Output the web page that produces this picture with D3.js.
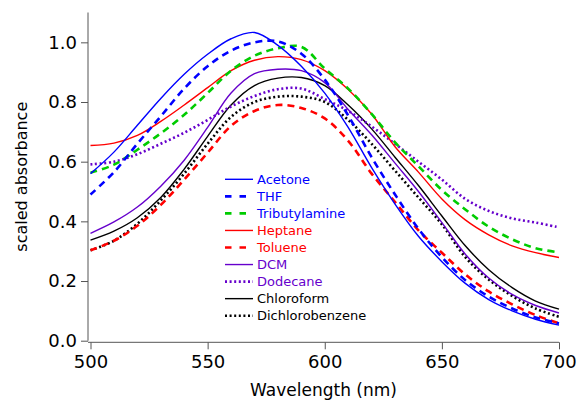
<!DOCTYPE html>
<html>
<head>
<meta charset="utf-8">
<script src="https://cdn.jsdelivr.net/npm/d3@7"></script>
<style>
  body { margin: 0; background: #fff; }
  text { font-family: "DejaVu Sans", sans-serif; }
</style>
</head>
<body>
<script>
// chart size
const w = 579;
const h = 400;

// data, wavelength in nm
const wavelengths = [500,510,520,530,540,550,560,570,580,590,600,610,620,630,640,650,660,670,680,690,700];

const acetone   = [0.560,0.632,0.722,0.812,0.893,0.960,1.012,1.033,0.990,0.920,0.830,0.715,0.580,0.458,0.350,0.265,0.192,0.138,0.100,0.072,0.052];
const thf       = [0.490,0.565,0.660,0.752,0.845,0.920,0.972,1.000,1.003,0.962,0.875,0.755,0.615,0.490,0.375,0.280,0.203,0.148,0.108,0.078,0.058];
const tributyl  = [0.563,0.590,0.640,0.695,0.757,0.830,0.905,0.955,0.980,0.985,0.912,0.845,0.760,0.665,0.585,0.505,0.440,0.382,0.340,0.310,0.296];
const heptane   = [0.654,0.662,0.688,0.735,0.790,0.848,0.905,0.940,0.952,0.942,0.905,0.842,0.760,0.650,0.565,0.475,0.405,0.355,0.318,0.295,0.279];
const toluene   = [0.303,0.335,0.385,0.455,0.540,0.630,0.720,0.770,0.790,0.780,0.745,0.670,0.560,0.465,0.370,0.295,0.222,0.165,0.122,0.086,0.058];
const dcm       = [0.360,0.398,0.448,0.518,0.605,0.715,0.830,0.895,0.910,0.905,0.865,0.775,0.690,0.595,0.500,0.396,0.290,0.210,0.155,0.118,0.093];
const dodecane  = [0.591,0.600,0.625,0.660,0.697,0.740,0.785,0.820,0.843,0.845,0.810,0.770,0.718,0.660,0.600,0.540,0.475,0.435,0.410,0.396,0.380];
const chloro    = [0.337,0.367,0.412,0.480,0.575,0.685,0.790,0.855,0.880,0.882,0.855,0.790,0.710,0.615,0.520,0.418,0.318,0.238,0.178,0.133,0.106];
const dichloro  = [0.303,0.335,0.392,0.470,0.560,0.660,0.750,0.800,0.818,0.818,0.800,0.740,0.660,0.570,0.480,0.390,0.280,0.205,0.150,0.108,0.080];

const names  = ["Acetone","THF","Tributylamine","Heptane","Toluene","DCM","Dodecane","Chloroform","Dichlorobenzene"];
const values = [acetone, thf, tributyl, heptane, toluene, dcm, dodecane, chloro, dichloro];
const colors = ["#0000ff","#0000ff","#00cc00","#ff0000","#ff0000","#6600cc","#6600cc","#000000","#000000"];
const textColors = ["#0000ff","#0000ff","#0000ff","#ff0000","#ff0000","#6600cc","#6600cc","#000000","#000000"];
const styles = ["solid","dash","dash","solid","dash","solid","dot","solid","dot"];

const yTicks = [0, 0.2, 0.4, 0.6, 0.8, 1.0];
const xTicks = [500, 550, 600, 650, 700];

// scales
const xScale = d3.scaleLinear().domain([500, 700]).range([90.5, 559]);
const yScale = d3.scaleLinear().domain([0, 1.1]).range([340.7, 12.5]);

const svg = d3.select("body").append("svg")
    .attr("width", w)
    .attr("height", h);

function dashOf(s) {
  if (s === "dash") return "7,5";
  if (s === "dot") return "2,2.6";
  return null;
}
function widthOf(s) {
  if (s === "solid") return 1.4;
  return 2.6;
}

// curves
const line = d3.line()
    .x((d, i) => xScale(wavelengths[i]))
    .y(d => yScale(d))
    .curve(d3.curveCatmullRom.alpha(0.5));

// draw in reverse so acetone ends on top
for (let k = values.length - 1; k >= 0; k--) {
  svg.append("path")
      .datum(values[k])
      .attr("d", line)
      .attr("fill", "none")
      .attr("stroke", colors[k])
      .attr("stroke-width", widthOf(styles[k]))
      .attr("stroke-dasharray", dashOf(styles[k]));
}

// axes
const yAxis = d3.axisLeft(yScale)
    .tickValues(yTicks)
    .tickFormat(d3.format(".1f"))
    .tickSize(7)
    .tickPadding(4);
const xAxis = d3.axisBottom(xScale)
    .tickValues(xTicks)
    .tickFormat(d3.format("d"))
    .tickSize(7)
    .tickPadding(6);

const gy = svg.append("g")
    .attr("transform", "translate(88,0)")
    .call(yAxis);
const gx = svg.append("g")
    .attr("transform", "translate(0,342.3)")
    .call(xAxis);

[gx, gy].forEach(g => {
  g.select(".domain").remove();
  g.selectAll("line").attr("stroke", "#555");
  g.selectAll("text").attr("font-size", 18).attr("fill", "#000")
    .style("font-family", "DejaVu Sans, sans-serif");
});
gx.selectAll("line").attr("transform", "translate(0,0)");

// axis lines
svg.append("line")
    .attr("x1", 88).attr("x2", 88)
    .attr("y1", yScale(1.1)).attr("y2", yScale(0))
    .attr("stroke", "#555");
svg.append("line")
    .attr("x1", 88).attr("x2", xScale(700))
    .attr("y1", 342.3).attr("y2", 342.3)
    .attr("stroke", "#555");

// axis titles
svg.append("text")
    .attr("transform", "translate(27,176.7) rotate(-90)")
    .attr("text-anchor", "middle")
    .attr("font-size", 16)
    .text("scaled absorbance");
svg.append("text")
    .attr("x", 323.5)
    .attr("y", 396)
    .attr("text-anchor", "middle")
    .attr("font-size", 17)
    .text("Wavelength (nm)");

// legend
const legend = svg.append("g");
names.forEach((n, i) => {
  const yy = 179.3 + i * 17.05;
  legend.append("line")
      .attr("x1", 225).attr("x2", 253)
      .attr("y1", yy).attr("y2", yy)
      .attr("stroke", colors[i])
      .attr("stroke-width", widthOf(styles[i]))
      .attr("stroke-dasharray", styles[i] === "dash" ? "6.5,8" : dashOf(styles[i]));
  legend.append("text")
      .attr("x", 257)
      .attr("y", yy)
      .attr("dy", "0.36em")
      .attr("font-size", 13)
      .attr("fill", textColors[i])
      .text(n);
});
</script>
</body>
</html>
